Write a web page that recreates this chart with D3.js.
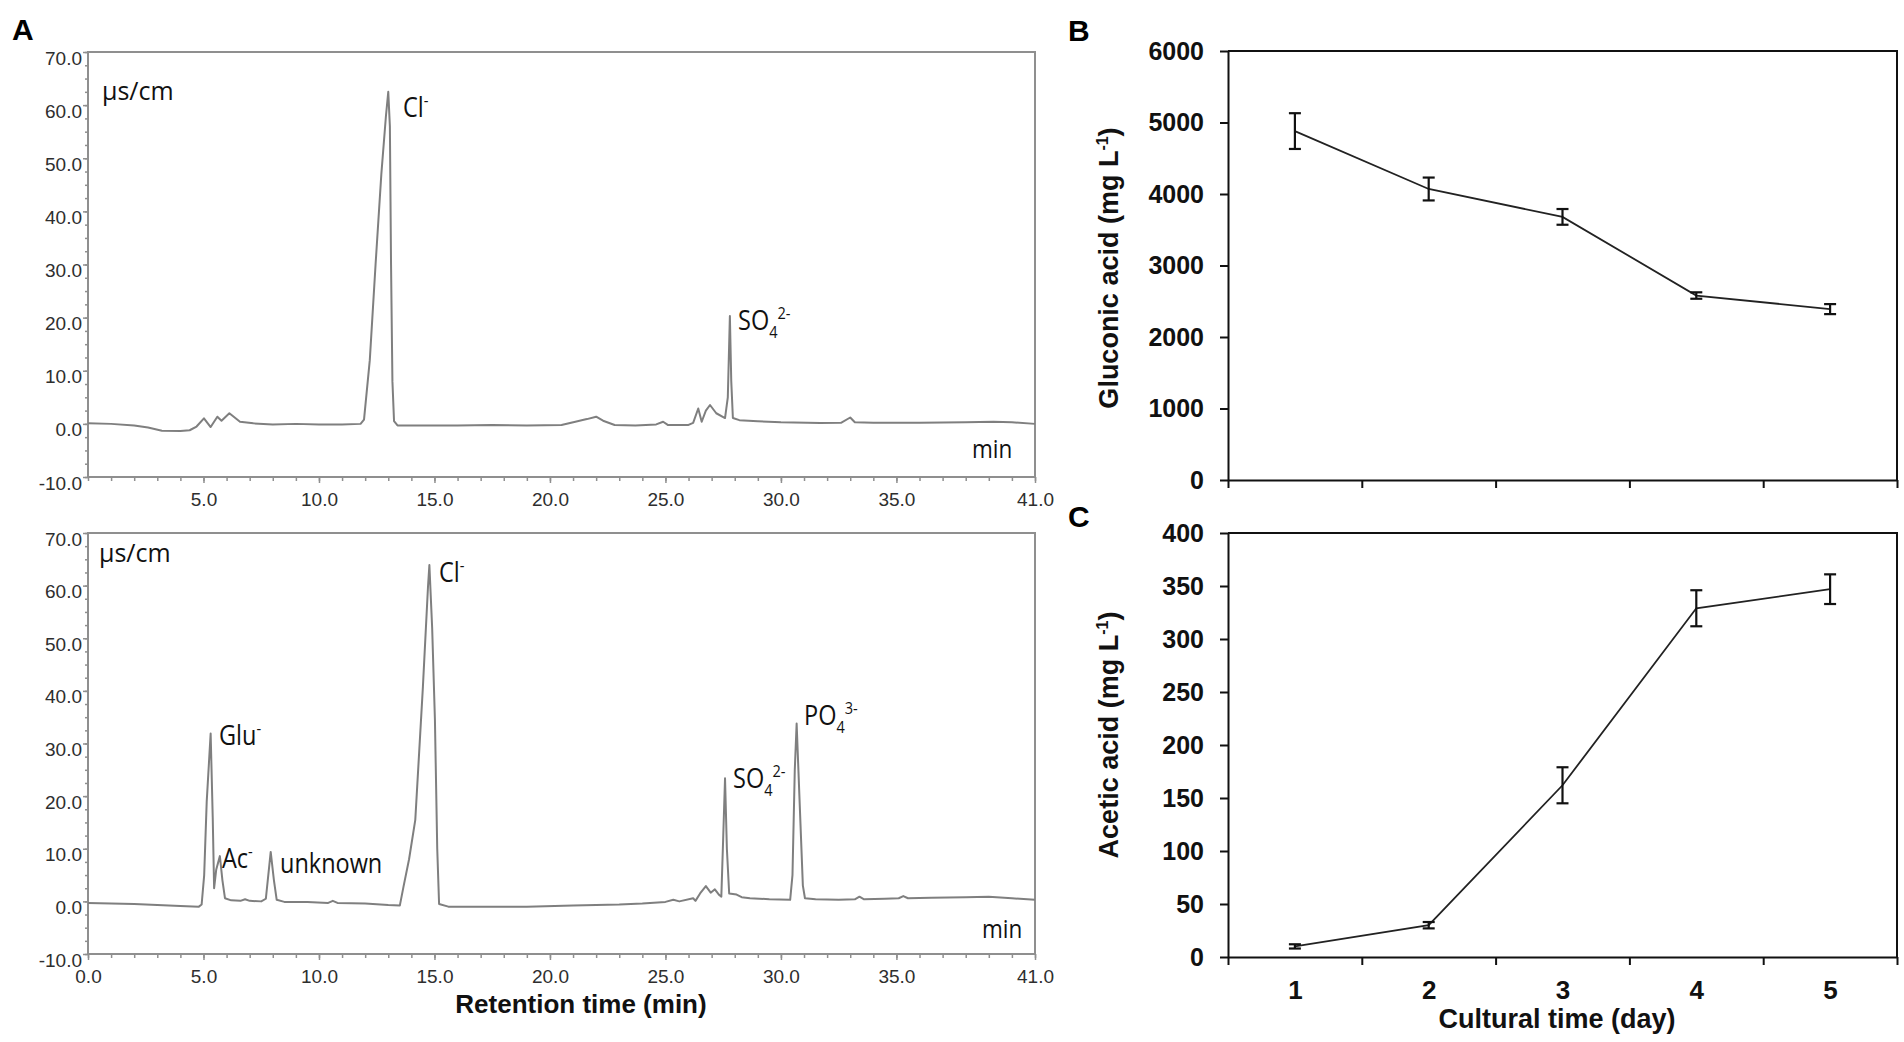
<!DOCTYPE html>
<html>
<head>
<meta charset="utf-8">
<script src="https://cdnjs.cloudflare.com/ajax/libs/d3/7.8.5/d3.min.js"></script>
<style>
  body { margin: 0; background: #fff; }
</style>
</head>
<body>
<div id="figure"></div>
<script>
// ---- Panel A: ion chromatograms (retention time in min, conductivity in µs/cm) ----
var topTime = [0, 1.0, 2.0, 2.6, 3.2, 4.0, 4.4, 4.7, 5.02, 5.31, 5.6, 5.78, 6.12, 6.58, 7.16, 8.0, 9.0, 10.0, 11.0,
  11.8, 11.95, 12.2, 12.45, 12.7, 12.9, 13.0, 13.07, 13.12, 13.18, 13.25, 13.4, 14.5, 16.0, 17.5, 19.0, 20.5,
  21.1, 21.6, 22.0, 22.3, 22.8, 23.7, 24.6, 24.9, 25.1, 26.0, 26.2, 26.42, 26.57, 26.75, 26.93, 27.2, 27.58,
  27.7, 27.79, 27.85, 27.92, 28.2, 29.0, 30.0, 31.7, 32.6, 33.0, 33.2, 34.0, 36.0, 38.0, 39.2, 40.0, 41.0];
var topSignal = [0.1, 0.0, -0.3, -0.7, -1.3, -1.35, -1.2, -0.5, 1.05, -0.6, 1.35, 0.6, 2.0, 0.4, 0.1, -0.1, 0.0, -0.1, -0.1,
  0.0, 0.8, 12, 30, 47, 58, 62.5, 56, 30, 8, 0.5, -0.3, -0.3, -0.3, -0.2, -0.3, -0.2,
  0.4, 0.9, 1.35, 0.6, -0.2, -0.3, -0.1, 0.4, -0.2, -0.2, 0.2, 2.9, 0.4, 2.5, 3.55, 2.0, 1.1,
  5, 20.3, 8, 1.1, 0.7, 0.5, 0.3, 0.16, 0.2, 1.2, 0.3, 0.2, 0.2, 0.3, 0.4, 0.3, 0.0];

var bottomTime = [0, 1.0, 2.0, 3.0, 4.0, 4.8, 4.92, 5.03, 5.14, 5.31, 5.4, 5.46, 5.55, 5.71, 5.82, 5.93, 6.2, 6.6, 6.8,
  7.0, 7.5, 7.7, 7.91, 8.05, 8.17, 8.5, 9.5, 10.4, 10.6, 10.8, 12.0, 13.0, 13.5, 13.66, 13.9, 14.17, 14.5, 14.72,
  14.78, 14.9, 15.02, 15.12, 15.2, 15.6, 17.0, 19.0, 21.0, 23.0, 24.0, 25.0, 25.34, 25.6, 26.2, 26.3, 26.5, 26.75,
  26.96, 27.14, 27.33, 27.42, 27.5, 27.58, 27.66, 27.76, 28.08, 28.3, 28.66, 29.5, 30.4, 30.5, 30.6, 30.68, 30.8,
  30.95, 31.04, 31.5, 32.5, 33.2, 33.4, 33.6, 34.5, 35.1, 35.3, 35.5, 36.5, 38.0, 39.0, 40.0, 41.0];
var bottomSignal = [-0.3, -0.4, -0.5, -0.7, -0.9, -1.0, -0.6, 5, 19, 31.9, 16, 2.5, 6, 8.6, 4, 0.6, 0.2, 0.1, 0.4,
  0.1, 0.0, 0.5, 9.4, 4, 0.3, -0.1, -0.1, -0.3, 0.1, -0.3, -0.4, -0.7, -0.8, 2.8, 8, 15.5, 40.8, 59.8,
  63.9, 52, 34.5, 10, -0.5, -1.0, -1.0, -1.0, -0.8, -0.6, -0.4, -0.1, 0.3, 0.0, 0.6, 0.1, 1.5, 2.9,
  1.65, 2.3, 1.2, 0.9, 12, 23.4, 10, 1.5, 1.3, 0.8, 0.6, 0.4, 0.3, 5, 25, 33.8, 20,
  3, 0.6, 0.4, 0.3, 0.4, 0.9, 0.4, 0.5, 0.6, 1.0, 0.6, 0.7, 0.8, 0.9, 0.6, 0.3];

var chromYTicks = [-10, 0, 10, 20, 30, 40, 50, 60, 70];
var topXTicks = [5, 10, 15, 20, 25, 30, 35, 41];
var bottomXTicks = [0, 5, 10, 15, 20, 25, 30, 35, 41];

// ---- Panels B and C: acid concentrations by cultural day ----
var days = [1, 2, 3, 4, 5];
var gluconicMean = [4880, 4070, 3680, 2580, 2390];
var gluconicErr = [250, 160, 110, 45, 70];
var aceticMean = [10, 30, 162, 329, 347];
var aceticErr = [2, 3, 17, 17, 14];
var gluconicTicks = [0, 1000, 2000, 3000, 4000, 5000, 6000];
var aceticTicks = [0, 50, 100, 150, 200, 250, 300, 350, 400];

var svgWidth = 1904;
var svgHeight = 1042;

var svg = d3.select("#figure")
  .append("svg")
  .attr("width", svgWidth)
  .attr("height", svgHeight)
  .style("display", "block");

var boldFont = "'Liberation Sans', Arial, sans-serif";
var labelFont = "'Open Sans', 'Noto Sans', sans-serif";

// text with sub/superscript parts
function richText(parent, x, y, parts, size, sx) {
  var t = parent.append("text")
    .attr("transform", `translate(${x},${y}) scale(${sx},1)`)
    .attr("font-family", labelFont)
    .attr("font-size", size)
    .attr("fill", "#111");
  var shift = 0;
  parts.forEach(function(p) {
    var target = p.sup ? -size * 0.42 : (p.sub ? size * 0.3 : 0);
    t.append("tspan")
      .attr("dy", target - shift)
      .attr("font-size", (p.sup || p.sub) ? size * 0.62 : size)
      .text(p.t);
    shift = target;
  });
  return t;
}

// ---- Panel A ----
var xTime = d3.scaleLinear().domain([0, 41]).range([88, 1035]);

function drawChromatogram(yTopPx, yBotPx, times, signal, xTicks) {
  var y = d3.scaleLinear().domain([-10, 70]).range([yBotPx, yTopPx]);
  var g = svg.append("g");
  var axisColor = "#8f8f8f";

  g.append("rect")
    .attr("x", xTime(0))
    .attr("y", yTopPx)
    .attr("width", xTime(41) - xTime(0))
    .attr("height", yBotPx - yTopPx)
    .attr("fill", "none")
    .attr("stroke", axisColor)
    .attr("stroke-width", 2);

  var minorY = g.append("g")
    .attr("transform", `translate(${xTime(0)},0)`)
    .call(d3.axisLeft(y).tickValues(d3.range(-10, 70.01, 2.5)).tickSize(3).tickFormat(""));
  var majorY = g.append("g")
    .attr("transform", `translate(${xTime(0)},0)`)
    .call(d3.axisLeft(y).tickValues(chromYTicks).tickSize(5).tickPadding(1).tickFormat(d => d.toFixed(1)));
  var minorX = g.append("g")
    .attr("transform", `translate(0,${yBotPx})`)
    .call(d3.axisBottom(xTime).tickValues(d3.range(0, 41.01, 1)).tickSize(4).tickFormat(""));
  var majorX = g.append("g")
    .attr("transform", `translate(0,${yBotPx})`)
    .call(d3.axisBottom(xTime).tickValues(xTicks).tickSize(6).tickPadding(10).tickFormat(d => d.toFixed(1)));

  [minorY, majorY, minorX, majorX].forEach(function(a) {
    a.select(".domain").remove();
    a.selectAll("line").attr("stroke", axisColor).attr("stroke-width", 1.5);
    a.selectAll("text")
      .attr("font-family", boldFont)
      .attr("font-size", 19)
      .attr("fill", "#2e2e2e");
  });
  majorY.selectAll("text").attr("transform", "translate(0,6)");

  var line = d3.line()
    .x(d => xTime(d[0]))
    .y(d => y(d[1]));

  g.append("path")
    .datum(times.map((t, i) => [t, signal[i]]))
    .attr("d", line)
    .attr("fill", "none")
    .attr("stroke", "#7f7f7f")
    .attr("stroke-width", 2)
    .attr("stroke-linejoin", "round");

  return g;
}

var topA = drawChromatogram(52, 477, topTime, topSignal, topXTicks);
var botA = drawChromatogram(533, 954, bottomTime, bottomSignal, bottomXTicks);

// unit and peak labels
richText(topA, 102, 100, [{t: "µs/cm"}], 25, 1);
richText(topA, 403, 117, [{t: "Cl"}, {t: "-", sup: true}], 27, 0.87);
richText(topA, 738, 330, [{t: "SO"}, {t: "4", sub: true}, {t: "2-", sup: true}], 27, 0.87);
richText(topA, 972, 458, [{t: "min"}], 25, 0.9);

richText(botA, 99, 562, [{t: "µs/cm"}], 25, 1);
richText(botA, 439, 582, [{t: "Cl"}, {t: "-", sup: true}], 27, 0.87);
richText(botA, 219, 745, [{t: "Glu"}, {t: "-", sup: true}], 27, 0.87);
richText(botA, 222, 868, [{t: "Ac"}, {t: "-", sup: true}], 27, 0.87);
richText(botA, 280, 873, [{t: "unknown"}], 27, 0.87);
richText(botA, 733, 788, [{t: "SO"}, {t: "4", sub: true}, {t: "2-", sup: true}], 27, 0.87);
richText(botA, 804, 725, [{t: "PO"}, {t: "4", sub: true}, {t: "3-", sup: true}], 27, 0.87);
richText(botA, 982, 938, [{t: "min"}], 25, 0.9);

svg.append("text")
  .attr("x", 581)
  .attr("y", 1013)
  .attr("text-anchor", "middle")
  .attr("font-family", boldFont)
  .attr("font-weight", "bold")
  .attr("font-size", 26)
  .attr("fill", "#111")
  .text("Retention time (min)");

// ---- Panels B and C ----
var xDay = d3.scaleLinear().domain([0.5, 5.5]).range([1228, 1897]);
var dayBounds = days.map(d => d - 0.5).concat([days[days.length - 1] + 0.5]);

function drawAcidPanel(yTopPx, yBotPx, ticks, means, errs, showLabels) {
  var y = d3.scaleLinear().domain([0, ticks[ticks.length - 1]]).range([yBotPx, yTopPx]);
  var g = svg.append("g");

  // top and right frame lines
  g.append("path")
    .attr("d", `M${xDay(0.5)},${yTopPx}H${xDay(5.5)}V${yBotPx}`)
    .attr("fill", "none")
    .attr("stroke", "#111")
    .attr("stroke-width", 2);

  var yAxis = g.append("g")
    .attr("transform", `translate(${xDay(0.5)},0)`)
    .call(d3.axisLeft(y).tickValues(ticks).tickSize(8).tickSizeOuter(0).tickPadding(16).tickFormat(d => String(d)));
  var xAxis = g.append("g")
    .attr("transform", `translate(0,${yBotPx})`)
    .call(d3.axisBottom(xDay).tickValues(dayBounds).tickSize(8).tickSizeOuter(0).tickFormat(""));

  [yAxis, xAxis].forEach(function(a) {
    a.select(".domain").attr("stroke", "#111").attr("stroke-width", 2);
    a.selectAll("line").attr("stroke", "#111").attr("stroke-width", 2);
    a.selectAll("text")
      .attr("font-family", boldFont)
      .attr("font-weight", "bold")
      .attr("font-size", 25)
      .attr("fill", "#111");
  });

  if (showLabels) {
    var xLab = g.append("g")
      .attr("transform", `translate(0,${yBotPx})`)
      .call(d3.axisBottom(xDay).tickValues(days).tickSize(0).tickPadding(24).tickFormat(d => String(d)));
    xLab.select(".domain").remove();
    xLab.selectAll("text")
      .attr("font-family", boldFont)
      .attr("font-weight", "bold")
      .attr("font-size", 26)
      .attr("fill", "#111");
  }

  var line = d3.line()
    .x((d, i) => xDay(days[i]))
    .y(d => y(d));

  g.append("path")
    .datum(means)
    .attr("d", line)
    .attr("fill", "none")
    .attr("stroke", "#222")
    .attr("stroke-width", 1.8);

  var bars = g.selectAll(".err")
    .data(means)
    .enter()
    .append("g")
    .attr("class", "err");

  bars.append("line")
    .attr("x1", (d, i) => xDay(days[i]))
    .attr("x2", (d, i) => xDay(days[i]))
    .attr("y1", (d, i) => y(d - errs[i]))
    .attr("y2", (d, i) => y(d + errs[i]));
  bars.append("line")
    .attr("x1", (d, i) => xDay(days[i]) - 6)
    .attr("x2", (d, i) => xDay(days[i]) + 6)
    .attr("y1", (d, i) => y(d + errs[i]))
    .attr("y2", (d, i) => y(d + errs[i]));
  bars.append("line")
    .attr("x1", (d, i) => xDay(days[i]) - 6)
    .attr("x2", (d, i) => xDay(days[i]) + 6)
    .attr("y1", (d, i) => y(d - errs[i]))
    .attr("y2", (d, i) => y(d - errs[i]));
  bars.selectAll("line")
    .attr("stroke", "#111")
    .attr("stroke-width", 2.2);

  return g;
}

var panelB = drawAcidPanel(51, 480, gluconicTicks, gluconicMean, gluconicErr, false);
var panelC = drawAcidPanel(533, 957, aceticTicks, aceticMean, aceticErr, true);

function yTitle(cx, cy, name) {
  var t = svg.append("text")
    .attr("transform", `translate(${cx},${cy}) rotate(-90)`)
    .attr("text-anchor", "middle")
    .attr("font-family", boldFont)
    .attr("font-weight", "bold")
    .attr("font-size", 27)
    .attr("fill", "#111");
  t.append("tspan").text(name + " (mg L");
  t.append("tspan").attr("dy", -10).attr("font-size", 16).text("-1");
  t.append("tspan").attr("dy", 10).text(")");
}
yTitle(1118, 268, "Gluconic acid");
yTitle(1118, 735, "Acetic acid");

svg.append("text")
  .attr("x", 1557)
  .attr("y", 1028)
  .attr("text-anchor", "middle")
  .attr("font-family", boldFont)
  .attr("font-weight", "bold")
  .attr("font-size", 27)
  .attr("fill", "#111")
  .text("Cultural time (day)");

// panel letters
[["A", 12, 40], ["B", 1068, 41], ["C", 1068, 527]].forEach(function(p) {
  svg.append("text")
    .attr("x", p[1])
    .attr("y", p[2])
    .attr("font-family", boldFont)
    .attr("font-weight", "bold")
    .attr("font-size", 30)
    .attr("fill", "#000")
    .text(p[0]);
});
</script>
</body>
</html>
